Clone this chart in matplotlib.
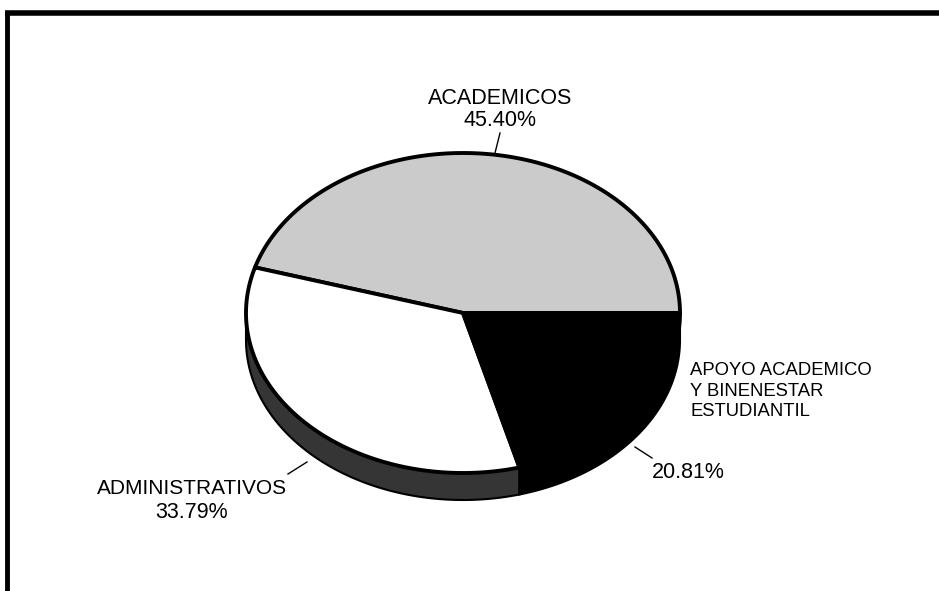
import matplotlib
matplotlib.use("Agg")
import matplotlib.pyplot as plt
from matplotlib.patches import Polygon
import numpy as np

labels = ["ACADEMICOS", "ADMINISTRATIVOS", "APOYO ACADEMICO\nY BINENESTAR\nESTUDIANTIL"]
values = [45.40, 33.79, 20.81]
top_colors = ["#cbcbcb", "#ffffff", "#000000"]
side_colors = ["#b0b0b0", "#353535", "#000000"]

# pie geometry in pixel coords
cx, cy = 463, 313
rx, ry = 217, 160
depth = 27

plt.rcParams['font.family'] = ['Liberation Sans', 'DejaVu Sans']
fig = plt.figure(figsize=(9.39, 5.91), dpi=100)
ax = fig.add_axes([0, 0, 1, 1])
ax.set_xlim(0, 939)
ax.set_ylim(591, 0)
ax.axis("off")


def pt(a, dz=0):
    return cx + rx * np.cos(a), cy - ry * np.sin(a) + dz


bounds = np.concatenate([[0], np.cumsum(values)]) / 100.0 * 2 * np.pi

# side walls (only the front half, angles pi..2pi)
for i in range(len(values)):
    a0, a1 = max(bounds[i], np.pi), min(bounds[i + 1], 2 * np.pi)
    if a1 <= a0:
        continue
    t = np.linspace(a0, a1, 120)
    xs, ys = pt(t)
    xb, yb = pt(t[::-1], depth)
    poly = Polygon(np.column_stack([np.r_[xs, xb], np.r_[ys, yb]]),
                   closed=True, facecolor=side_colors[i], edgecolor="black", lw=1.5)
    ax.add_patch(poly)

# top faces
for i in range(len(values)):
    t = np.linspace(bounds[i], bounds[i + 1], 200)
    xs, ys = pt(t)
    poly = Polygon(np.column_stack([np.r_[cx, xs], np.r_[cy, ys]]),
                   closed=True, facecolor=top_colors[i], edgecolor="black", lw=2.8,
                   joinstyle="round")
    ax.add_patch(poly)

fs = 15.5
ax.text(500, 98, labels[0], ha="center", va="center", fontsize=fs)
ax.text(500, 121, "%.2f%%" % values[0], ha="center", va="center", fontsize=fs)
ax.plot([500, 495], [133, 153], color="black", lw=1)

ax.text(192, 489, labels[1], ha="center", va="center", fontsize=15)
ax.text(192, 512, "%.2f%%" % values[1], ha="center", va="center", fontsize=fs)
ax.plot([288, 307], [474, 462], color="black", lw=1)

ax.text(690, 391, labels[2], ha="left", va="center", fontsize=13.3, linespacing=1.3)
ax.text(652, 473, "%.2f%%" % values[2], ha="left", va="center", fontsize=fs)
ax.plot([635, 652], [447, 458], color="black", lw=1)

# frame: top and left edges only
ax.plot([5, 939], [13, 13], color="black", lw=4, solid_capstyle="butt")
ax.plot([7, 7], [11, 591], color="black", lw=3.5, solid_capstyle="butt")

fig.savefig("out.png", dpi=100)
